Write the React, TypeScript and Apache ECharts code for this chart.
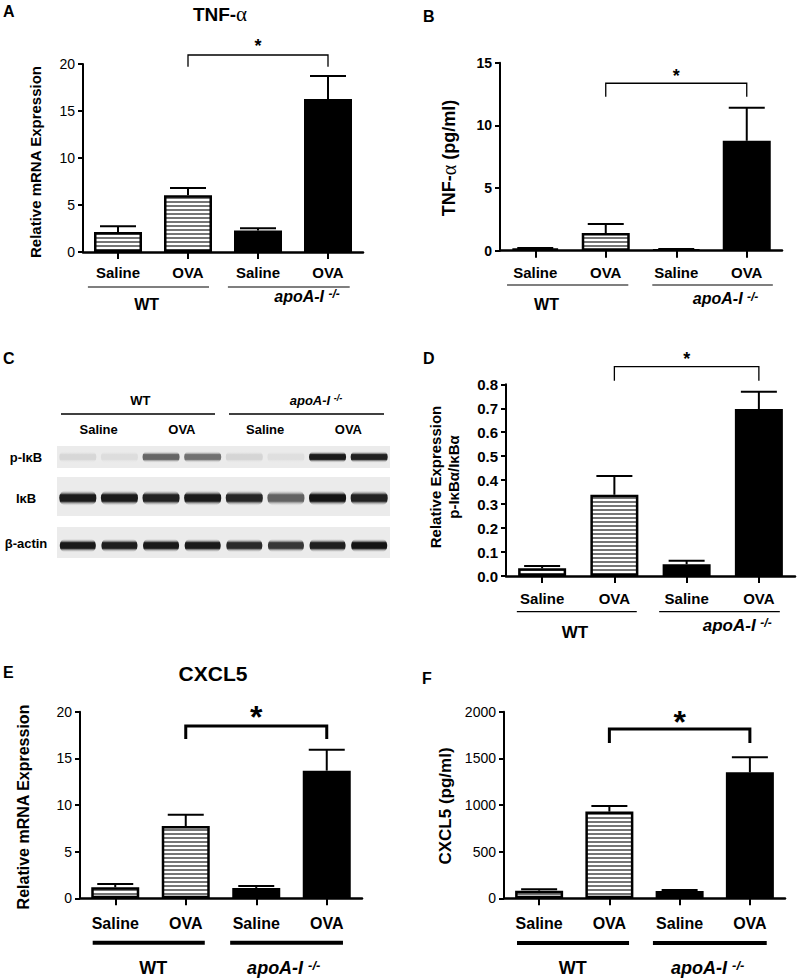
import React, { useEffect, useRef } from 'react';
import * as echarts from 'echarts';

// ---------------- data ----------------
const categories = ['Saline', 'OVA', 'Saline', 'OVA'];
const groupNames = ['WT', 'apoA-I'];

const tnfMrnaMean = [2.13, 6.03, 2.3, 16.28];
const tnfMrnaSem = [0.6, 0.78, 0.22, 2.44];
const tnfProtMean = [0.18, 1.41, 0.11, 8.77];
const tnfProtSem = [0.03, 0.72, 0.03, 2.64];
const pIkbRatioMean = [0.032, 0.339, 0.049, 0.697];
const pIkbRatioSem = [0.01, 0.078, 0.015, 0.072];
const cxclMrnaMean = [1.18, 7.75, 1.11, 13.68];
const cxclMrnaSem = [0.36, 1.21, 0.21, 2.25];
const cxclProtMean = [82, 929, 79, 1350];
const cxclProtSem = [14, 60, 10, 161];

// western blot band intensities (0..1), 8 lanes
const blotLanes = ['Saline', 'Saline', 'OVA', 'OVA', 'Saline', 'Saline', 'OVA', 'OVA'];
const pIkbBands = [0.08, 0.05, 0.6, 0.55, 0.09, 0.04, 0.95, 0.92];
const ikbBands = [0.95, 0.95, 0.92, 0.95, 0.9, 0.62, 0.98, 0.92];
const actinBands = [0.96, 0.94, 0.96, 0.96, 0.88, 0.82, 0.93, 0.98];

// ---------------- style ----------------
const FONT = "'Liberation Sans', Arial, Helvetica, sans-serif";
const SERIF = "'Liberation Serif', 'DejaVu Serif', serif";
const CAP_W = 36;

const hatchSvg =
  "<svg xmlns='http://www.w3.org/2000/svg' width='8' height='4'><rect width='8' height='4' fill='#ffffff'/><rect y='1.4' width='8' height='1.2' fill='#1a1a1a'/></svg>";
const hatch: any = {
  image: 'data:image/svg+xml;charset=utf-8,' + encodeURIComponent(hatchSvg),
  repeat: 'repeat',
  imageWidth: 8,
  imageHeight: 4,
};

interface Panel {
  mean: number[];
  sem: number[];
  left: number; top: number; width: number; height: number;
  min: number; max: number; interval: number; dec: number;
  tickBold: boolean; tickSize: number;
  catSize: number; catMargin: number;
  bracket: number[]; brW: number; star: number;
  lineY: number; lineW: number; wt: number[]; apo: number[];
  wtX: number; wtY: number; apoX: number; apoY: number; grpSize: number;
}

const panels: Panel[] = [
  { // A
    mean: tnfMrnaMean, sem: tnfMrnaSem,
    left: 83, top: 64, width: 280, height: 188, min: 0, max: 20, interval: 5, dec: 0,
    tickBold: false, tickSize: 14, catSize: 15, catMargin: 13,
    bracket: [1, 3, 20.96, 19.7, 22.4], brW: 1.3, star: 18,
    lineY: 35, lineW: 1.2, wt: [0.07, 1.8], apo: [2.07, 3.81],
    wtX: 0.91, wtY: 52.5, apoX: 3.2, apoY: 44, grpSize: 16,
  },
  { // B
    mean: tnfProtMean, sem: tnfProtSem,
    left: 500, top: 62.7, width: 282, height: 188, min: 0, max: 15, interval: 5, dec: 0,
    tickBold: true, tickSize: 14, catSize: 15, catMargin: 14,
    bracket: [1, 3, 13.36, 12.29, 14.26], brW: 1.3, star: 18,
    lineY: 34.3, lineW: 1.2, wt: [0.1, 1.82], apo: [2.16, 3.87],
    wtX: 0.66, wtY: 54, apoX: 3.2, apoY: 48, grpSize: 16,
  },
  { // D
    mean: pIkbRatioMean, sem: pIkbRatioSem,
    left: 506, top: 384.3, width: 289, height: 191.7, min: 0, max: 0.8, interval: 0.1, dec: 1,
    tickBold: true, tickSize: 15, catSize: 15, catMargin: 14.5,
    bracket: [1, 3, 0.8735, 0.815, 0.922], brW: 1.3, star: 18,
    lineY: 35.7, lineW: 1.2, wt: [0.15, 1.81], apo: [2.12, 3.79],
    wtX: 0.955, wtY: 56, apoX: 3.2, apoY: 49, grpSize: 17,
  },
  { // E
    mean: cxclMrnaMean, sem: cxclMrnaSem,
    left: 80, top: 711.7, width: 282, height: 186.6, min: 0, max: 20, interval: 5, dec: 0,
    tickBold: false, tickSize: 14, catSize: 16, catMargin: 17,
    bracket: [1, 3, 18.47, 17.07, 20.2], brW: 3, star: 32,
    lineY: 44.4, lineW: 4, wt: [0.18, 1.77], apo: [2.13, 3.73],
    wtX: 1.04, wtY: 70, apoX: 2.89, apoY: 70, grpSize: 18,
  },
  { // F
    mean: cxclProtMean, sem: cxclProtSem,
    left: 504, top: 711.7, width: 281, height: 186.6, min: 0, max: 2000, interval: 500, dec: 0,
    tickBold: false, tickSize: 14, catSize: 16, catMargin: 17,
    bracket: [1, 3, 1814, 1664, 1964], brW: 3, star: 32,
    lineY: 44.7, lineW: 4, wt: [0.185, 1.78], apo: [2.12, 3.74],
    wtX: 0.98, wtY: 70, apoX: 2.9, apoY: 70, grpSize: 18,
  },
];

function txt(x: number, y: number, text: string, size: number, opts: any = {}) {
  const weight = opts.weight ?? 'bold';
  const style: any = {
    text,
    fontSize: size,
    fontWeight: weight,
    fontStyle: opts.italic ? 'italic' : 'normal',
    fontFamily: FONT,
    fill: '#000',
    align: opts.align ?? 'center',
    verticalAlign: opts.va ?? 'middle',
    textAlign: opts.align ?? 'center',
    textVerticalAlign: opts.va ?? 'middle',
  };
  if (opts.rich) style.rich = opts.rich;
  return { type: 'text', x, y, rotation: opts.rotation ?? 0, style, silent: true };
}

function apoText(x: number, y: number, size: number) {
  return txt(x, y, '{i|apoA-I }{s|-/-}', size, {
    rich: {
      i: { fontSize: size, fontWeight: 'bold', fontStyle: 'italic', fontFamily: FONT, fill: '#000' },
      s: { fontSize: Math.round(size * 0.72), fontWeight: 'bold', fontStyle: 'italic', fontFamily: FONT, fill: '#000', verticalAlign: 'top' },
    },
  });
}

function errorRender(_params: any, api: any) {
  const i = api.value(0);
  const base = api.coord([i, api.value(1)]);
  const top = api.coord([i, api.value(2)]);
  const h = CAP_W / 2;
  return {
    type: 'group',
    children: [
      { type: 'line', shape: { x1: base[0], y1: base[1], x2: top[0], y2: top[1] }, style: { stroke: '#000', lineWidth: 2 } },
      { type: 'line', shape: { x1: top[0] - h, y1: top[1], x2: top[0] + h, y2: top[1] }, style: { stroke: '#000', lineWidth: 2 } },
    ],
  };
}

function makeBracket(p: Panel) {
  return (_params: any, api: any) => {
    const c0 = api.value(0), c1 = api.value(1);
    const a = api.coord([c0, api.value(2)]);
    const b = api.coord([c1, api.value(2)]);
    const la = api.coord([c0, api.value(3)]);
    const lb = api.coord([c1, api.value(3)]);
    const s = api.coord([(c0 + c1) / 2, api.value(4)]);
    return {
      type: 'group',
      children: [
        { type: 'polyline', shape: { points: [la, a, b, lb] }, style: { stroke: '#000', lineWidth: p.brW, fill: null } },
        {
          type: 'text', x: s[0], y: s[1] + p.star * 0.23,
          style: { text: '*', fontSize: p.star, fontWeight: 'bold', fontFamily: FONT, fill: '#000', align: 'center', verticalAlign: 'middle', textAlign: 'center', textVerticalAlign: 'middle' },
        },
      ],
    };
  };
}

function buildOption() {
  const grid: any[] = [];
  const xAxis: any[] = [];
  const yAxis: any[] = [];
  const series: any[] = [];
  const graphic: any[] = [];

  panels.forEach((p, i) => {
    grid.push({ left: p.left, top: p.top, width: p.width, height: p.height, containLabel: false, outerBoundsMode: 'none' });
    xAxis.push({
      gridIndex: i, type: 'category', data: categories, boundaryGap: true,
      axisLine: { show: true, lineStyle: { color: '#000', width: 2.5 } },
      axisTick: { show: true, alignWithLabel: true, length: 7, lineStyle: { color: '#000', width: 2 } },
      axisLabel: { interval: 0, color: '#000', fontSize: p.catSize, fontWeight: 'bold', fontFamily: FONT, margin: p.catMargin },
      splitLine: { show: false },
    });
    yAxis.push({
      gridIndex: i, type: 'value', min: p.min, max: p.max, interval: p.interval,
      axisLine: { show: true, lineStyle: { color: '#000', width: 2 } },
      axisTick: { show: true, length: 5, lineStyle: { color: '#000', width: 2 } },
      axisLabel: {
        color: '#000', fontSize: p.tickSize, fontWeight: p.tickBold ? 'bold' : 'normal', fontFamily: FONT, margin: 8,
        formatter: (v: number) => v.toFixed(p.dec),
      },
      splitLine: { show: false },
    });
    series.push({
      type: 'bar', xAxisIndex: i, yAxisIndex: i, barWidth: 48, silent: true, z: 2,
      data: p.mean.map((v, k) => ({
        value: v,
        itemStyle: k < 2
          ? { color: hatch, borderColor: '#000', borderWidth: 2.5 }
          : { color: '#000', borderColor: '#000', borderWidth: 2 },
      })),
    });
    series.push({
      type: 'custom', xAxisIndex: i, yAxisIndex: i, silent: true, z: 3,
      encode: { x: 0, y: [1, 2] },
      data: p.mean.map((v, k) => [k, v, v + p.sem[k]]),
      renderItem: errorRender,
    });
    series.push({
      type: 'custom', xAxisIndex: i, yAxisIndex: i, silent: true, z: 3,
      encode: { x: [0, 1], y: [2, 3, 4] },
      data: [p.bracket],
      renderItem: makeBracket(p),
    });

    // group lines and labels
    const y0 = p.top + p.height;
    const band = p.width / 4;
    [p.wt, p.apo].forEach((seg) => {
      graphic.push({
        type: 'line', silent: true,
        shape: { x1: p.left + seg[0] * band, y1: y0 + p.lineY, x2: p.left + seg[1] * band, y2: y0 + p.lineY },
        style: { stroke: '#000', lineWidth: p.lineW },
      });
    });
    graphic.push(txt(p.left + p.wtX * band, y0 + p.wtY, groupNames[0], p.grpSize));
    graphic.push(apoText(p.left + p.apoX * band, y0 + p.apoY, p.grpSize));
  });

  // panel letters
  const letters: [string, number, number][] = [['A', 3, 3], ['B', 423, 8], ['C', 3, 350], ['D', 423, 350], ['E', 3, 664], ['F', 422, 670]];
  letters.forEach(([t, x, y]) => graphic.push(txt(x, y, t, 16, { align: 'left', va: 'top' })));

  // titles
  graphic.push(txt(220, 14, '{b|TNF-}{g|α}', 19, {
    rich: {
      b: { fontSize: 19, fontWeight: 'bold', fontFamily: FONT, fill: '#000' },
      g: { fontSize: 21, fontWeight: 'normal', fontFamily: SERIF, fill: '#000' },
    },
  }));
  graphic.push(txt(213, 673, 'CXCL5', 21));

  // y-axis names
  const R = Math.PI / 2;
  graphic.push(txt(35, 162, 'Relative mRNA Expression', 15, { rotation: R }));
  graphic.push(txt(449, 158, '{b|TNF-}{g|α}{b| (pg/ml)}', 18, {
    rotation: R,
    rich: {
      b: { fontSize: 18, fontWeight: 'bold', fontFamily: FONT, fill: '#000' },
      g: { fontSize: 20, fontWeight: 'normal', fontFamily: SERIF, fill: '#000' },
    },
  }));
  graphic.push(txt(435, 477, 'Relative Expression', 15, { rotation: R }));
  graphic.push(txt(453, 477, 'p-IκBα/IκBα', 15, { rotation: R }));
  graphic.push(txt(23, 807, 'Relative mRNA Expression', 16, { rotation: R }));
  graphic.push(txt(445, 806, 'CXCL5 (pg/ml)', 17, { rotation: R }));

  // ---------- panel C: western blot ----------
  const blotLeft = 57, blotRight = 390;
  const laneW = (blotRight - blotLeft) / 8;
  const laneX = (k: number) => blotLeft + laneW * (k + 0.5);
  graphic.push(txt((laneX(0) + laneX(3)) / 2, 400, groupNames[0], 13));
  graphic.push(apoText(316, 400, 13));
  graphic.push({ type: 'line', silent: true, shape: { x1: 61, y1: 414, x2: 215, y2: 414 }, style: { stroke: '#000', lineWidth: 1.5 } });
  graphic.push({ type: 'line', silent: true, shape: { x1: 229, y1: 414, x2: 384, y2: 414 }, style: { stroke: '#000', lineWidth: 1.5 } });
  for (let k = 0; k < 8; k += 2) {
    graphic.push(txt((laneX(k) + laneX(k + 1)) / 2, 429, blotLanes[k], 13));
  }
  const rows = [
    { label: 'p-IκB', bands: pIkbBands, bgTop: 446, bgH: 22, bandY: 457, bandH: 12, bandW: 37, labelY: 457 },
    { label: 'IκB', bands: ikbBands, bgTop: 477, bgH: 39, bandY: 498, bandH: 16, bandW: 37, labelY: 498 },
    { label: 'β-actin', bands: actinBands, bgTop: 527, bgH: 31, bandY: 545.5, bandH: 14, bandW: 36, labelY: 543 },
  ];
  rows.forEach((r) => {
    graphic.push({
      type: 'rect', silent: true,
      shape: { x: blotLeft, y: r.bgTop, width: blotRight - blotLeft, height: r.bgH },
      style: { fill: '#ebebeb' },
    });
    r.bands.forEach((v, k) => {
      const g = Math.round(232 - v * 216);
      const c = `rgb(${g},${g},${g})`;
      graphic.push({
        type: 'rect', silent: true,
        shape: { x: laneX(k) - r.bandW / 2, y: r.bandY - r.bandH / 2, width: r.bandW, height: r.bandH, r: r.bandH / 2.2 },
        style: {
          fill: {
            type: 'linear', x: 0, y: 0, x2: 0, y2: 1,
            colorStops: [
              { offset: 0, color: 'rgba(235,235,235,0)' },
              { offset: 0.3, color: c },
              { offset: 0.7, color: c },
              { offset: 1, color: 'rgba(235,235,235,0)' },
            ],
          },
        },
      });
    });
    graphic.push(txt(26, r.labelY, r.label, 13));
  });

  return {
    animation: false,
    backgroundColor: '#ffffff',
    textStyle: { fontFamily: FONT },
    grid, xAxis, yAxis, series, graphic,
  };
}

export default function App() {
  const ref = useRef<HTMLDivElement>(null);
  useEffect(() => {
    const chart = echarts.init(ref.current as HTMLDivElement, null, { renderer: 'svg' });
    chart.setOption(buildOption() as any);
    return () => chart.dispose();
  }, []);
  return (
    <div
      ref={ref}
      style={{ position: 'absolute', left: 0, top: 0, width: 797, height: 978, background: '#ffffff' }}
    />
  );
}
